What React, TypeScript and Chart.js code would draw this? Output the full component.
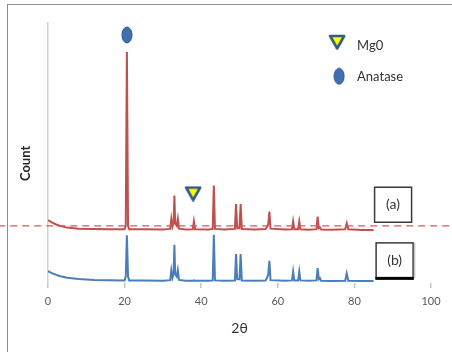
import { useEffect, useRef } from "react";
import { Chart, registerables } from "chart.js";

Chart.register(...registerables);

// ---- data ----
const twoTheta = [
  0, 1, 2, 3, 5, 8, 12, 16, 20, 20.3, 20.6, 20.9, 21.2, 25, 30, 31.9, 32.2, 32.5, 32.8, 33.0,
  33.2, 33.6, 33.9, 34.2, 36, 37.8, 38.1, 38.4, 42, 43.0, 43.3, 43.6, 46, 48.8, 49.1, 49.4,
  50.0, 50.3, 50.6, 54, 56.8, 57.2, 57.5, 57.8, 58.1, 62, 63.7, 64.0, 64.3, 65.3, 65.6, 65.9,
  68, 70.1, 70.4, 70.7, 71.0, 71.3, 74, 77.6, 78.0, 78.4, 82, 85,
];
const sampleA = [
  24.2, 23.3, 22.6, 22.0, 21.3, 20.9, 20.8, 20.7, 20.7, 22.0, 88.8, 22.0, 20.7, 20.7, 20.6, 20.8,
  24.7, 21.6, 23.0, 33.6, 23.0, 22.0, 24.7, 20.9, 20.6, 20.7, 23.7, 20.7, 20.6, 20.8, 37.5, 20.8,
  20.6, 20.8, 30.4, 21.1, 21.1, 30.4, 20.8, 20.6, 20.8, 21.6, 22.6, 27.5, 20.9, 20.6, 20.7, 23.7,
  20.7, 20.7, 23.7, 20.7, 20.5, 20.7, 25.5, 21.1, 21.4, 20.6, 20.5, 20.7, 23.0, 20.7, 20.4, 20.4,
];
const sampleB = [
  4.6, 3.8, 3.2, 2.7, 2.0, 1.5, 1.2, 1.1, 1.0, 2.5, 18.4, 2.5, 1.0, 1.0, 0.9, 1.1,
  4.9, 2.0, 3.5, 14.7, 3.5, 2.5, 4.9, 1.2, 0.9, 0.9, 1.0, 0.9, 0.9, 1.0, 18.5, 1.0,
  0.9, 1.0, 11.1, 1.4, 1.4, 11.1, 1.0, 0.9, 1.0, 2.0, 3.3, 8.5, 1.1, 0.9, 1.0, 4.4,
  1.0, 1.0, 4.4, 1.0, 0.9, 1.0, 5.7, 1.5, 1.9, 0.9, 0.8, 0.9, 3.7, 0.9, 0.8, 0.8,
];
const refLineX = [-13, 106];
const refLineY = [22.0, 22.0];

const xTickValues = [0, 20, 40, 60, 80, 100];

// phase markers (data coordinates)
const anataseMarkX = [20.6, 76.0];
const anataseMarkY = [95.4, 79.5];
const mgoMarkX = [37.9, 75.5];
const mgoMarkY = [34.4, 92.7];

// legend text
const legendText = ["Mg0", "Anatase"];
const legendTextX = [80.7, 80.7];
const legendTextY = [91.1, 79.2];

// sample labels
const sampleLabels = ["(a)", "(b)"];
const sampleLabelX = [90.1, 90.5];
const sampleLabelY = [30.1, 8.7];

const yTitle = "Count";
const yTitleX = [-5.7];
const yTitleY = [46];
const xTitle = "2θ";

const FONT = "Lato, 'Open Sans', 'DejaVu Sans', sans-serif";
const RED = "#c0504d";
const BLUE = "#4a7ebb";

function makeEllipse(): HTMLCanvasElement {
  const c = document.createElement("canvas");
  c.width = 12;
  c.height = 18;
  const g = c.getContext("2d")!;
  g.beginPath();
  g.ellipse(6, 9, 5, 8, 0, 0, Math.PI * 2);
  g.fillStyle = "#3f6fb3";
  g.fill();
  g.lineWidth = 1;
  g.strokeStyle = "#2c5585";
  g.stroke();
  return c;
}

function makeTriangle(): HTMLCanvasElement {
  const c = document.createElement("canvas");
  c.width = 18;
  c.height = 16;
  const g = c.getContext("2d")!;
  g.beginPath();
  g.moveTo(2, 2);
  g.lineTo(16, 2);
  g.lineTo(9, 14.5);
  g.closePath();
  g.fillStyle = "#ffff00";
  g.fill();
  g.lineWidth = 2.6;
  g.lineJoin = "round";
  g.strokeStyle = "#2f5a88";
  g.stroke();
  return c;
}

const toXY = (xs: number[], ys: number[]) => xs.map((x, i) => ({ x, y: ys[i] }));

export default function App() {
  const ref = useRef<HTMLCanvasElement>(null);

  useEffect(() => {
    document.body.style.margin = "0";
    const canvas = ref.current!;

    const annotations = {
      id: "annotations",
      afterDatasetsDraw(chart: any) {
        const { ctx, scales } = chart;
        const xs = scales.x;
        const ys = scales.y;
        ctx.save();
        // legend text
        ctx.fillStyle = "#333333";
        ctx.font = `13px ${FONT}`;
        ctx.textAlign = "left";
        ctx.textBaseline = "middle";
        legendText.forEach((t, i) => {
          ctx.fillText(t, xs.getPixelForValue(legendTextX[i]), ys.getPixelForValue(legendTextY[i]));
        });
        // sample label boxes
        sampleLabels.forEach((t, i) => {
          const cx = xs.getPixelForValue(sampleLabelX[i]);
          const cy = ys.getPixelForValue(sampleLabelY[i]);
          const w = 37;
          const h = 35;
          ctx.strokeStyle = "#3a3a3a";
          ctx.lineWidth = 1.5;
          ctx.strokeRect(cx - w / 2, cy - h / 2, w, h);
          if (i === 1) {
            ctx.fillStyle = "#000000";
            ctx.fillRect(cx - w / 2 - 0.75, cy + h / 2 - 1, w + 1.5, 3);
            ctx.strokeStyle = "#c8c8c8";
            ctx.beginPath();
            ctx.moveTo(cx + w / 2 + 1.5, cy - h / 2);
            ctx.lineTo(cx + w / 2 + 1.5, cy + h / 2);
            ctx.stroke();
          }
          ctx.fillStyle = "#333333";
          ctx.font = `14px ${FONT}`;
          ctx.textAlign = "center";
          ctx.textBaseline = "middle";
          ctx.fillText(t, cx, cy);
        });
        // y title
        ctx.save();
        ctx.translate(xs.getPixelForValue(yTitleX[0]), ys.getPixelForValue(yTitleY[0]));
        ctx.rotate(-Math.PI / 2);
        ctx.font = `bold 13px ${FONT}`;
        ctx.fillStyle = "#262626";
        ctx.textAlign = "center";
        ctx.textBaseline = "middle";
        ctx.fillText(yTitle, 0, 0);
        ctx.restore();
        ctx.restore();
      },
    };

    const chart = new Chart(canvas, {
      type: "scatter",
      data: {
        datasets: [
          {
            data: toXY(refLineX, refLineY),
            showLine: true,
            borderColor: "#d9545e",
            borderWidth: 1.2,
            borderDash: [7, 5],
            pointRadius: 0,
            clip: false,
          } as any,
          {
            data: toXY(twoTheta, sampleA),
            showLine: true,
            borderColor: RED,
            borderWidth: 2,
            pointRadius: 0,
            tension: 0,
          },
          {
            data: toXY(twoTheta, sampleB),
            showLine: true,
            borderColor: BLUE,
            borderWidth: 2,
            pointRadius: 0,
            tension: 0,
          },
          {
            data: toXY(anataseMarkX, anataseMarkY),
            showLine: false,
            pointStyle: makeEllipse(),
            pointRadius: 8,
            clip: false,
          } as any,
          {
            data: toXY(mgoMarkX, mgoMarkY),
            showLine: false,
            pointStyle: makeTriangle(),
            pointRadius: 8,
            clip: false,
          } as any,
        ],
      },
      options: {
        animation: false,
        responsive: false,
        devicePixelRatio: 1,
        events: [],
        layout: { padding: { left: 48, right: 21, top: 23, bottom: 15 } },
        plugins: { legend: { display: false }, tooltip: { enabled: false } },
        scales: {
          x: {
            type: "linear",
            min: 0,
            max: 100,
            afterBuildTicks: (axis: any) => {
              axis.ticks = xTickValues.map((v) => ({ value: v }));
            },
            grid: {
              display: true,
              drawOnChartArea: false,
              drawTicks: true,
              tickLength: 5,
              color: "#c4c4c4",
              lineWidth: 1.5,
            },
            border: { display: false },
            ticks: {
              color: "#595959",
              font: { family: FONT, size: 11 },
              padding: 7,
              maxRotation: 0,
            },
            title: {
              display: true,
              text: xTitle,
              color: "#333333",
              font: { family: FONT, size: 14 },
              padding: { top: 5, bottom: 0 },
            },
          },
          y: {
            type: "linear",
            min: 0,
            max: 100,
            grid: { display: false, drawTicks: false },
            border: { display: true, color: "#d0d0d0", width: 1.5 },
            ticks: { display: false },
          },
        },
      },
      plugins: [annotations],
    });

    return () => chart.destroy();
  }, []);

  return (
    <div style={{ position: "relative", width: 452, height: 352, overflow: "hidden", background: "#ffffff" }}>
      <canvas ref={ref} width={452} height={352} style={{ display: "block" }} />
      <div
        style={{
          position: "absolute",
          left: 7,
          top: 4,
          width: 460,
          height: 360,
          borderLeft: "1.5px solid #8c8c8c",
          borderTop: "1.5px solid #8c8c8c",
          pointerEvents: "none",
        }}
      />
    </div>
  );
}
